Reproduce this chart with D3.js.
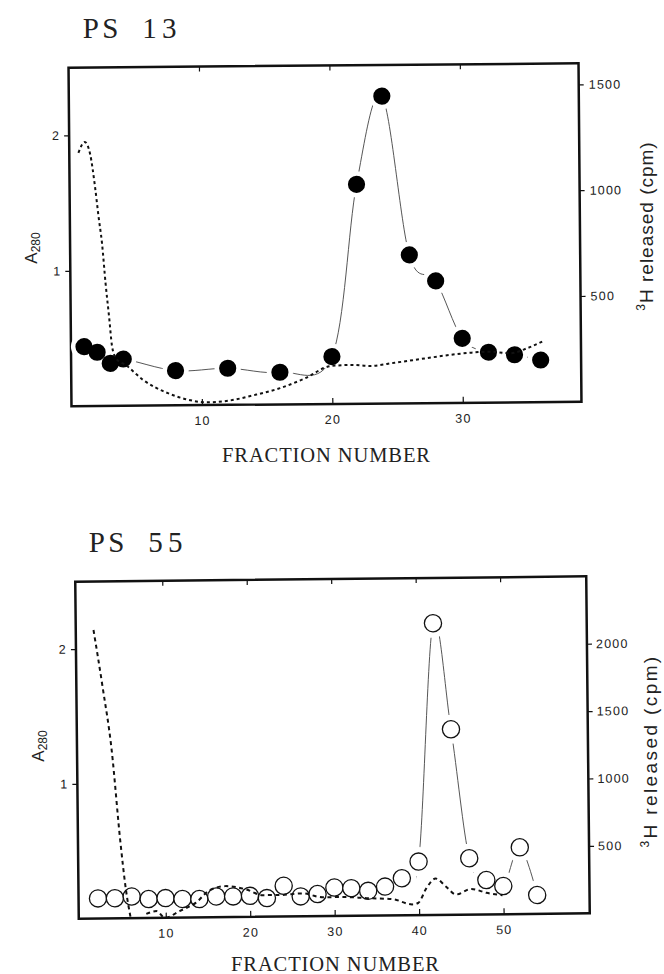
<!DOCTYPE html>
<html>
<head>
<meta charset="utf-8">
<script src="https://cdn.jsdelivr.net/npm/d3@7"></script>
<style>
body { margin: 0; background: #fff; }
.tick text { font-family: 'Liberation Sans', Arial, sans-serif; font-size: 12.5px; letter-spacing: 1.2px; fill: #222; }
.tick line { stroke: #111; stroke-width: 1.2; }
.typed { font-family: 'Liberation Serif', 'Times New Roman', serif; fill: #222; }
.sans { font-family: 'Liberation Sans', Arial, sans-serif; fill: #222; }
</style>
</head>
<body>
<svg id="drawing_region"></svg>
<script>
// PS 13 : 3H released (cpm), filled circles
const ps13_fraction = [1, 2, 3, 4, 8, 12, 16, 20, 22, 24, 26, 28, 30, 32, 34, 36];
const ps13_cpm = [281, 254, 201, 221, 164, 173, 152, 224, 1037, 1453, 701, 577, 305, 238, 225, 199];
// PS 13 : A280 (dotted)
const ps13_a280_fraction = [0.7, 1.2, 1.6, 1.95, 2.2, 2.45, 2.7, 2.95, 3.15, 3.45, 4.2, 5.5, 7.4, 8.8, 10.4, 12, 14, 16, 17.9, 19.9, 21.5, 22.9, 24.8, 27.1, 29, 30.7, 32, 33.7, 35, 36.2];
const ps13_a280 = [1.87, 1.95, 1.86, 1.62, 1.40, 1.20, 0.90, 0.65, 0.44, 0.35, 0.30, 0.19, 0.09, 0.044, 0.02, 0.03, 0.07, 0.12, 0.19, 0.28, 0.287, 0.278, 0.30, 0.33, 0.354, 0.37, 0.376, 0.363, 0.40, 0.45];

// PS 55 : 3H released (cpm), open circles
const ps55_fraction = [2, 4, 6, 8, 10, 12, 14, 16, 18, 20, 22, 24, 26, 28, 30, 32, 34, 36, 38, 40, 42, 44, 46, 48, 50, 52, 54];
const ps55_cpm = [149, 149, 160, 140, 146, 138, 136, 154, 153, 156, 138, 228, 148, 164, 211, 205, 184, 214, 275, 397, 2164, 1376, 418, 255, 209, 495, 140];
// PS 55 : A280 (dotted, two pieces)
const ps55_a280_fraction_a = [1.8, 2.8, 3.8, 4.7, 5.3, 5.85];
const ps55_a280_a = [2.14, 1.72, 1.25, 0.58, 0.22, 0.0];
const ps55_a280_fraction_b = [7.7, 8.9, 9.9, 11.7, 13.6, 15.2, 17.1, 19.5, 21.5, 23.5, 26.2, 28.6, 31, 33.8, 36.9, 39.2, 39.9, 40.9, 42, 43.2, 44.4, 46.2, 48, 49.9];
const ps55_a280_b = [0.03, 0.05, 0.0, 0.05, 0.11, 0.2, 0.23, 0.205, 0.16, 0.16, 0.17, 0.14, 0.14, 0.13, 0.12, 0.08, 0.09, 0.2, 0.27, 0.21, 0.15, 0.19, 0.16, 0.14];

// tick labels
const ps13_xticks = [10, 20, 30];
const ps55_xticks = [10, 20, 30, 40, 50];
const a280_ticks = [1, 2];
const ps13_cpm_ticks = [500, 1000, 1500];
const ps55_cpm_ticks = [500, 1000, 1500, 2000];

d3.select('#drawing_region').attr('width', 664).attr('height', 974);

class FractionChart {
  constructor(config, data) {
    this.config = config;
    this.data = data;
    this.init();
  }
  init() {
    let self = this;
    const c = self.config;
    self.svg = d3.select(c.parent);
    self.xscale = d3.scaleLinear().domain(c.xdomain).range([c.left, c.right]);
    self.ascale = d3.scaleLinear().domain([0, c.amax]).range([c.bottom, c.top]);
    self.cscale = d3.scaleLinear().domain([0, c.cmax]).range([c.bottom, c.top]);
    const cx = (c.left + c.right) / 2, cy = (c.top + c.bottom) / 2;
    // the scanned figure is slightly tilted
    self.chart = self.svg.append('g').attr('transform', `rotate(${c.angle}, ${cx}, ${cy})`);
    self.render();
  }
  render() {
    let self = this;
    const c = self.config, d = self.data;
    const pts = d.fraction.map((f, i) => ({ f: f, v: d.cpm[i] }));

    // axes
    self.chart.append('g').attr('transform', `translate(0, ${c.bottom})`)
      .call(d3.axisBottom(self.xscale).tickValues(c.xticks).tickSizeInner(-6).tickSizeOuter(0).tickPadding(11))
      .call(g => g.select('.domain').remove());
    self.chart.append('g').attr('transform', `translate(0, ${c.top})`)
      .call(d3.axisTop(self.xscale).tickValues(c.xticks).tickSizeInner(-5).tickSizeOuter(0).tickFormat(''))
      .call(g => g.select('.domain').remove());
    self.chart.append('g').attr('transform', `translate(${c.left}, 0)`)
      .call(d3.axisLeft(self.ascale).tickValues(a280_ticks).tickSize(5).tickPadding(4).tickFormat(d3.format('d')))
      .call(g => g.select('.domain').remove());
    self.chart.append('g').attr('transform', `translate(${c.right}, 0)`)
      .call(d3.axisRight(self.cscale).tickValues(c.cticks).tickSize(5).tickPadding(c.rpad).tickFormat(d3.format('d')))
      .call(g => g.select('.domain').remove());

    // frame
    self.chart.append('rect')
      .attr('x', c.left).attr('y', c.top)
      .attr('width', c.right - c.left).attr('height', c.bottom - c.top)
      .attr('fill', 'none').attr('stroke', '#111').attr('stroke-width', 2.5);

    // thin smooth line through the counts
    const line = d3.line().x(p => self.xscale(p.f)).y(p => self.cscale(p.v)).curve(d3.curveCardinal.tension(0));
    self.chart.append('path').attr('d', line(pts))
      .attr('fill', 'none').attr('stroke', '#444').attr('stroke-width', 0.9);

    // white halos leave gaps in the line near each marker
    self.chart.append('g').selectAll('circle').data(pts).join('circle')
      .attr('cx', p => self.xscale(p.f)).attr('cy', p => self.cscale(p.v))
      .attr('r', c.r + c.halo).attr('fill', '#fff');
    self.chart.append('g').selectAll('circle').data(pts).join('circle')
      .attr('cx', p => self.xscale(p.f)).attr('cy', p => self.cscale(p.v))
      .attr('r', c.r)
      .attr('fill', c.filled ? '#000' : '#fff')
      .attr('stroke', '#111').attr('stroke-width', c.filled ? 0 : 1.3);

    // A280 dotted
    const aline = d3.line().x(p => self.xscale(p.f)).y(p => self.ascale(p.v)).curve(d3.curveMonotoneX);
    d.a280.forEach(seg => {
      const s = seg.fraction.map((f, i) => ({ f: f, v: seg.value[i] }));
      self.chart.append('path').attr('d', aline(s))
        .attr('fill', 'none').attr('stroke', '#111')
        .attr('stroke-width', 2).attr('stroke-dasharray', c.dash);
    });

    // title, typewriter style: one glyph per fixed-width cell
    const cell = 19.6;
    self.svg.append('text').attr('class', 'typed').attr('font-size', 29)
      .attr('y', c.title_y).attr('text-anchor', 'middle')
      .selectAll('tspan').data(c.title.split('')).join('tspan')
      .attr('x', (ch, i) => c.title_x + i * cell + cell / 2)
      .text(ch => ch);
    self.svg.append('text').attr('class', 'typed')
      .attr('x', c.xlabel_x).attr('y', c.xlabel_y)
      .attr('font-size', 20.5).attr('textLength', 208).text('FRACTION NUMBER');

    const al = self.svg.append('text').attr('class', 'sans')
      .attr('transform', `translate(${c.alabel_x}, ${c.alabel_y}) rotate(-90)`)
      .attr('text-anchor', 'middle').attr('font-size', 17);
    al.append('tspan').text('A');
    al.append('tspan').attr('font-size', 12).attr('dy', 3).text('280');

    const cl = self.svg.append('text').attr('class', 'sans')
      .attr('transform', `translate(${c.clabel_x}, ${c.clabel_y}) rotate(-90)`)
      .attr('text-anchor', 'middle').attr('font-size', 19)
      .attr('letter-spacing', c.clabel_spacing);
    cl.append('tspan').attr('font-size', 12).attr('dy', -8).text('3');
    cl.append('tspan').attr('dy', 8).text('H released (cpm)');
  }
}

new FractionChart({
  parent: '#drawing_region',
  title: 'PS 13', title_x: 81, title_y: 37.5,
  left: 70, right: 580, top: 65.5, bottom: 404, angle: -0.5,
  xdomain: [0, 39.1], amax: 2.5, cmax: 1600,
  xticks: ps13_xticks, cticks: ps13_cpm_ticks, rpad: 5,
  r: 8.6, halo: 4.5, filled: true, dash: '3,3',
  xlabel_x: 222, xlabel_y: 461.5,
  alabel_x: 37, alabel_y: 248,
  clabel_x: 653, clabel_y: 226, clabel_spacing: 1
}, {
  fraction: ps13_fraction, cpm: ps13_cpm,
  a280: [{ fraction: ps13_a280_fraction, value: ps13_a280 }]
});

new FractionChart({
  parent: '#drawing_region',
  title: 'PS 55', title_x: 87, title_y: 552,
  left: 77, right: 588, top: 579, bottom: 916, angle: -0.6,
  xdomain: [-0.3, 60.2], amax: 2.5, cmax: 2500,
  xticks: ps55_xticks, cticks: ps55_cpm_ticks, rpad: 4,
  r: 8.6, halo: 6, filled: false, dash: '4,3.5',
  xlabel_x: 231, xlabel_y: 970.5,
  alabel_x: 44, alabel_y: 746,
  clabel_x: 657, clabel_y: 751, clabel_spacing: 2.4
}, {
  fraction: ps55_fraction, cpm: ps55_cpm,
  a280: [
    { fraction: ps55_a280_fraction_a, value: ps55_a280_a },
    { fraction: ps55_a280_fraction_b, value: ps55_a280_b }
  ]
});
</script>
</body>
</html>
